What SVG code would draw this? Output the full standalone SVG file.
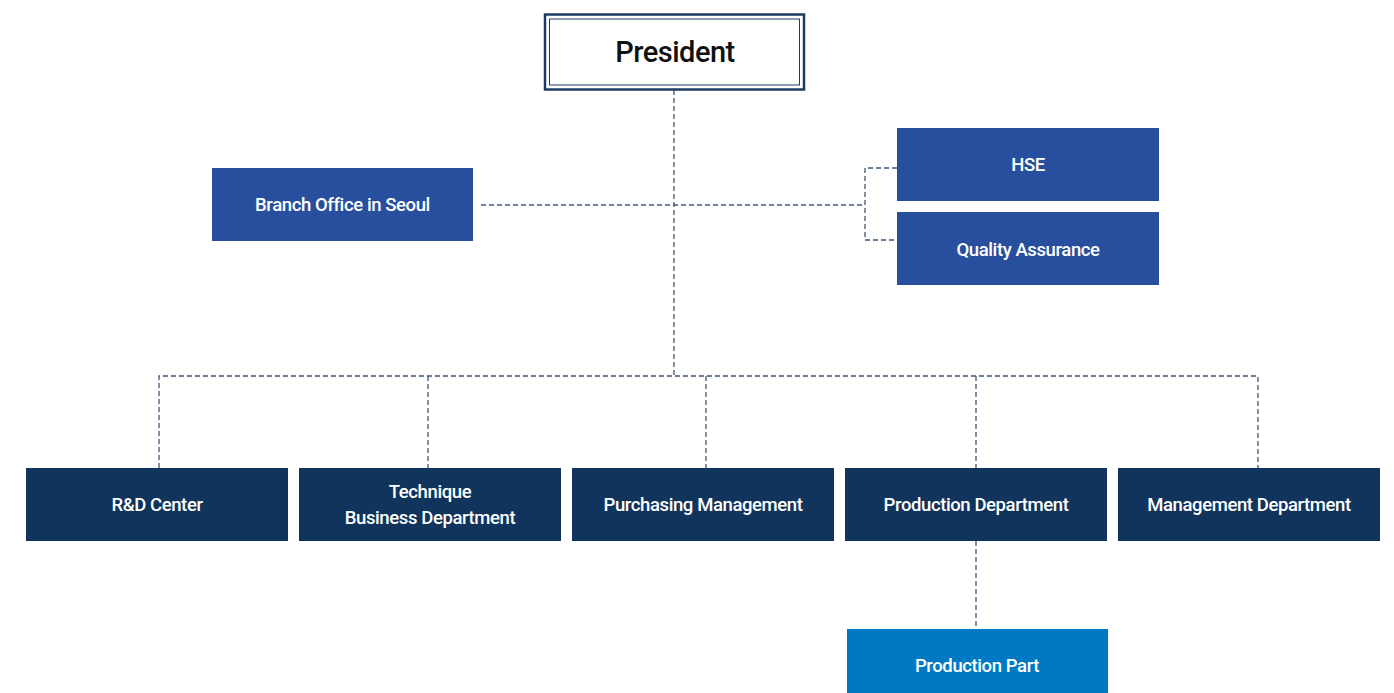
<svg xmlns="http://www.w3.org/2000/svg" width="1394" height="693" viewBox="0 0 1394 693">
<style>
.lbl{font-family:Roboto,"Liberation Sans",sans-serif;font-size:18.5px;font-weight:500;fill:#ffffff;text-anchor:middle;letter-spacing:-0.4px}
.navy{fill:#10345c}
.mid{fill:#284f9e}
.bright{fill:#0079c5}
.conn{fill:none;stroke:#3e5877;stroke-width:1.3;stroke-dasharray:5 3}
</style>
<rect width="1394" height="693" fill="#ffffff"/>
<g id="connectors">
<path class="conn" d="M674 90 V376"/>
<path class="conn" d="M481 205 H865"/>
<path class="conn" d="M897 168 H865 V240 H897"/>
<path class="conn" d="M159 468 V376 H1258 V468"/>
<path class="conn" d="M428 376 V468"/>
<path class="conn" d="M706 376 V468"/>
<path class="conn" d="M976 376 V468"/>
<path class="conn" d="M976 541 V629"/>
</g>
<g id="president">
<rect x="545" y="14.5" width="259" height="75" fill="#ffffff" stroke="#1d3a63" stroke-width="2.5"/>
<rect x="549.5" y="19" width="250" height="66" fill="none" stroke="#1d3a63" stroke-width="1"/>
<text x="675" y="62" font-family="Roboto,'Liberation Sans',sans-serif" font-size="29" font-weight="500" fill="#111111" text-anchor="middle" letter-spacing="-0.5">President</text>
</g>
<g id="branch">
<rect class="mid" x="212" y="168" width="261" height="73"/>
<text class="lbl" x="342.5" y="211">Branch Office in Seoul</text>
</g>
<g id="hse">
<rect class="mid" x="897" y="128" width="262" height="73"/>
<text class="lbl" x="1028" y="171">HSE</text>
</g>
<g id="qa">
<rect class="mid" x="897" y="212" width="262" height="73"/>
<text class="lbl" x="1028" y="256">Quality Assurance</text>
</g>
<g id="rnd">
<rect class="navy" x="26" y="468" width="262" height="73"/>
<text class="lbl" x="157" y="511">R&amp;D Center</text>
</g>
<g id="technique">
<rect class="navy" x="299" y="468" width="262" height="73"/>
<text class="lbl" x="430" y="498">Technique</text>
<text class="lbl" x="430" y="524">Business Department</text>
</g>
<g id="purchasing">
<rect class="navy" x="572" y="468" width="262" height="73"/>
<text class="lbl" x="703" y="511">Purchasing Management</text>
</g>
<g id="production">
<rect class="navy" x="845" y="468" width="262" height="73"/>
<text class="lbl" x="976" y="511">Production Department</text>
</g>
<g id="management">
<rect class="navy" x="1118" y="468" width="262" height="73"/>
<text class="lbl" x="1249" y="511">Management Department</text>
</g>
<g id="productionpart">
<rect class="bright" x="847" y="629" width="261" height="64"/>
<text class="lbl" x="977" y="672">Production Part</text>
</g>
</svg>
